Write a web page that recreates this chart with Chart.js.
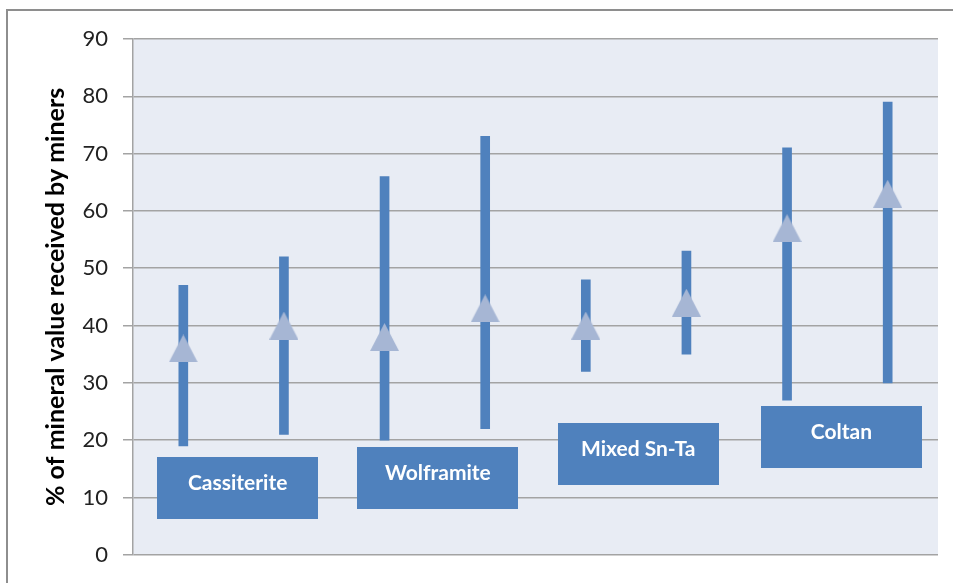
<!DOCTYPE html>
<html>
<head>
<meta charset="utf-8">
<script src="https://cdn.jsdelivr.net/npm/chart.js@4"></script>
<style>
  html, body { margin: 0; padding: 0; background: #fff; overflow: hidden; }
  #frame { position: absolute; left: 6px; top: 9px; width: 1000px; height: 700px; border: 2px solid #8e8e8e; }
  #wrap { position: absolute; left: 0; top: 0; width: 953px; height: 583px; }
</style>
</head>
<body>
<div id="frame"></div>
<div id="wrap"><canvas id="grafica"></canvas></div>
<script>
// datos
const categorias = ['Cassiterite A', 'Cassiterite B', 'Wolframite A', 'Wolframite B',
                    'Mixed Sn-Ta A', 'Mixed Sn-Ta B', 'Coltan A', 'Coltan B']
const minimos  = [19, 21, 20, 22, 32, 35, 27, 30]
const maximos  = [47, 52, 66, 73, 48, 53, 71, 79]
const promedio = [36, 40, 38, 43, 40, 44, 57, 63]
const yTicks   = [0, 10, 20, 30, 40, 50, 60, 70, 80, 90]
const grupos   = ['Cassiterite', 'Wolframite', 'Mixed Sn-Ta', 'Coltan']

// cajas de texto (posicion en unidades de los ejes)
const cajas = [
  { x: 0.54, top: 17.1, bottom: 6.3 },
  { x: 2.53, top: 18.8, bottom: 8.0 },
  { x: 4.52, top: 23.0, bottom: 12.1 },
  { x: 6.54, top: 26.0, bottom: 15.2 },
]

const COLORS = {
  bar:   '#4f81bd',
  tri:   '#a6b6d4',
  bg:    '#e8ecf4',
  grid:  '#a3a3a3',
}

// marcador triangulo tipo Excel (ancho = alto)
function triangulo(w, h, color) {
  const c = document.createElement('canvas')
  c.width = w
  c.height = h
  const g = c.getContext('2d')
  g.fillStyle = color
  g.beginPath()
  g.moveTo(w / 2, 0)
  g.lineTo(w, h)
  g.lineTo(0, h)
  g.closePath()
  g.fill()
  return c
}

const fondo = {
  id: 'fondo',
  beforeDraw(chart) {
    const a = chart.chartArea
    const ctx = chart.ctx
    ctx.save()
    ctx.fillStyle = COLORS.bg
    ctx.fillRect(a.left, a.top, a.right - a.left, a.bottom - a.top)
    ctx.restore()
  }
}

const etiquetas = {
  id: 'etiquetas',
  afterDatasetsDraw(chart) {
    const ctx = chart.ctx
    const x = chart.scales.x, y = chart.scales.y
    const ancho = x.getPixelForValue(1) - x.getPixelForValue(0)
    ctx.save()
    cajas.forEach(function(c, i) {
      const cx = x.getPixelForValue(c.x)
      const t = y.getPixelForValue(c.top)
      const b = y.getPixelForValue(c.bottom)
      const w = ancho * 1.6
      ctx.fillStyle = COLORS.bar
      ctx.fillRect(Math.round(cx - w / 2), Math.round(t), Math.round(w), Math.round(b - t))
      ctx.fillStyle = '#ffffff'
      ctx.font = "bold 21px 'Lato', sans-serif"
      ctx.textAlign = 'center'
      ctx.textBaseline = 'middle'
      ctx.fillText(grupos[i], cx, (t + b) / 2 - 5)
    })
    ctx.restore()
  }
}

new Chart(document.getElementById('grafica'), {
  data: {
    labels: categorias,
    datasets: [
      {
        type: 'line',
        label: 'Media',
        data: promedio,
        showLine: false,
        pointStyle: triangulo(29, 28, COLORS.tri),
        pointRadius: 14,
        order: 0,
      },
      {
        type: 'bar',
        label: 'Rango',
        data: minimos.map(function(v, i) { return [v, maximos[i]] }),
        backgroundColor: COLORS.bar,
        barThickness: 9,
        borderSkipped: false,
        order: 1,
      }
    ]
  },
  options: {
    responsive: true,
    maintainAspectRatio: false,
    animation: false,
    layout: { padding: { left: 0, right: 14, top: 39, bottom: 27 } },
    plugins: { legend: { display: false }, tooltip: { enabled: false } },
    scales: {
      x: { display: false, offset: true },
      y: {
        min: 0,
        max: 90,
        afterBuildTicks(axis) { axis.ticks = yTicks.map(function(v) { return { value: v } }) },
        afterFit(axis) { axis.width = 133 },
        ticks: {
          color: '#222',
          padding: 15,
          font: { family: "'Lato', sans-serif", size: 22 },
        },
        grid: { color: COLORS.grid, lineWidth: 1.5, tickLength: 10 },
        border: { color: COLORS.grid, width: 1.5 },
        title: {
          display: true,
          text: '% of mineral value received by miners',
          color: '#000',
          font: { family: "'Lato', sans-serif", size: 25, weight: 'bold' },
          padding: { top: 41, bottom: 0 },
        }
      }
    }
  },
  plugins: [fondo, etiquetas]
})
</script>
</body>
</html>
